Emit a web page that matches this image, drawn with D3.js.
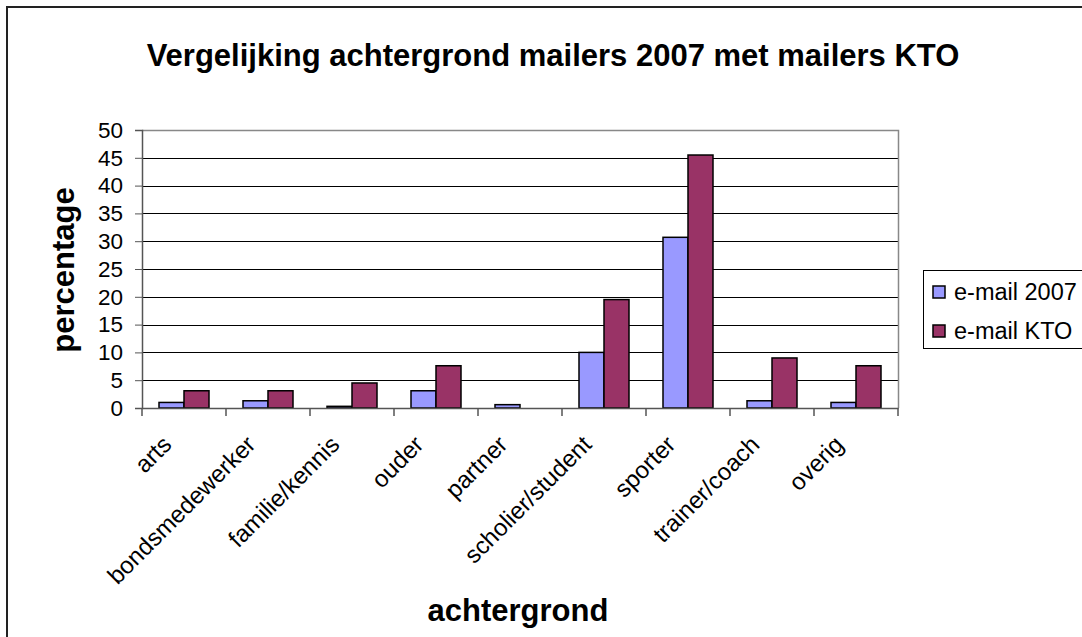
<!DOCTYPE html>
<html><head><meta charset="utf-8">
<script src="https://cdn.jsdelivr.net/npm/d3@7"></script>
<style>body{margin:0;background:#fff}svg{display:block;font-family:Arial,"Liberation Sans",sans-serif}</style>
</head><body><svg id="c" width="1082" height="637"></svg>
<script>
const categories = ["arts","bondsmedewerker","familie/kennis","ouder","partner","scholier/student","sporter","trainer/coach","overig"];
const seriesNames = ["e-mail 2007","e-mail KTO"];
const email2007 = [1.0,1.3,0.3,3.1,0.6,10.0,30.7,1.3,1.0];
const emailKTO = [3.1,3.1,4.5,7.6,0,19.5,45.5,9.0,7.6];
const yTicks = [0,5,10,15,20,25,30,35,40,45,50];
const colors = ["#9999FF","#993366"];
const title = "Vergelijking achtergrond mailers 2007 met mailers KTO";
const xTitle = "achtergrond", yTitle = "percentage";

const svg = d3.select("#c");
const L = 142, R = 898, T = 130, B = 408;
svg.append("rect").attr("x",7).attr("y",7).attr("width",1200).attr("height",800)
  .attr("fill","none").attr("stroke","#222").attr("stroke-width",2);

const x0 = d3.scaleBand().domain(categories).range([L,R]).padding(0);
const x1 = d3.scaleBand().domain(seriesNames).range([17,67]).padding(0);
const y = d3.scaleLinear().domain([0,50]).range([B,T]);

// gridlines
svg.append("g").selectAll("line").data(yTicks.filter(v=>v>0&&v<50)).join("line")
  .attr("x1",L).attr("x2",R).attr("y1",d=>Math.round(y(d))+0.5).attr("y2",d=>Math.round(y(d))+0.5)
  .attr("stroke","#000").attr("stroke-width",1);
// plot border top/right
svg.append("path").attr("d",`M${L},${T+0.5}H${R+0.5}V${B}`).attr("fill","none").attr("stroke","#888").attr("stroke-width",1.5);

// bars
const data = categories.map((c,i)=>({c, vals:[email2007[i],emailKTO[i]]}));
const g = svg.append("g").selectAll("g").data(data).join("g").attr("transform",d=>`translate(${x0(d.c)},0)`);
g.selectAll("rect").data(d=>d.vals.map((v,j)=>({v,s:seriesNames[j],j}))).join("rect")
  .filter(d=>d.v>0)
  .attr("x",d=>x1(d.s)).attr("width",x1.bandwidth())
  .attr("y",d=>y(d.v)).attr("height",d=>B-y(d.v))
  .attr("fill",d=>colors[d.j]).attr("stroke","#000").attr("stroke-width",1.5);

// y axis
const ya = d3.axisLeft(y).tickValues(yTicks).tickSize(7).tickPadding(12);
const yg = svg.append("g").attr("transform",`translate(${L},0)`).call(ya);
yg.select(".domain").attr("stroke","#555").attr("stroke-width",1.5);
yg.selectAll(".tick line").attr("stroke","#555");
yg.selectAll("text").attr("font-size",22.5).attr("fill","#000").attr("font-family","Arial, Liberation Sans, sans-serif");

// x axis
const xa = d3.axisBottom(x0).tickSize(0).tickFormat("");
const xg = svg.append("g").attr("transform",`translate(0,${B})`).call(xa);
xg.select(".domain").attr("stroke","#555").attr("stroke-width",1.5);
const bounds = categories.map(c=>x0(c)).concat([R]);
xg.selectAll("line.sep").data(bounds).join("line").attr("class","sep")
  .attr("x1",d=>d).attr("x2",d=>d).attr("y1",0).attr("y2",8).attr("stroke","#555").attr("stroke-width",1.5);
svg.append("g").selectAll("text").data(categories).join("text")
  .attr("transform",d=>`translate(${x0(d)+x0.bandwidth()/2-11},${B+38}) rotate(-45)`)
  .attr("text-anchor","end").attr("font-size",24).text(d=>d);

// titles
svg.append("text").attr("x",553).attr("y",66).attr("text-anchor","middle")
  .attr("font-size",31).attr("font-weight","bold").text(title);
svg.append("text").attr("x",(L+R)/2-2).attr("y",621).attr("text-anchor","middle")
  .attr("font-size",31).attr("font-weight","bold").text(xTitle);
svg.append("text").attr("transform",`translate(74,${(T+B)/2+1}) rotate(-90)`).attr("text-anchor","middle")
  .attr("font-size",31).attr("font-weight","bold").text(yTitle);

// legend
const lg = svg.append("g");
lg.append("rect").attr("x",923.5).attr("y",270.5).attr("width",200).attr("height",78)
  .attr("fill","#fff").attr("stroke","#000").attr("stroke-width",1);
seriesNames.forEach((s,i)=>{
  const cy = 292 + i*39;
  lg.append("rect").attr("x",933).attr("y",cy-6).attr("width",12).attr("height",12)
    .attr("fill",colors[i]).attr("stroke","#000").attr("stroke-width",1.5);
  lg.append("text").attr("x",954).attr("y",cy+8).attr("font-size",23.5).text(s);
});
</script></body></html>
